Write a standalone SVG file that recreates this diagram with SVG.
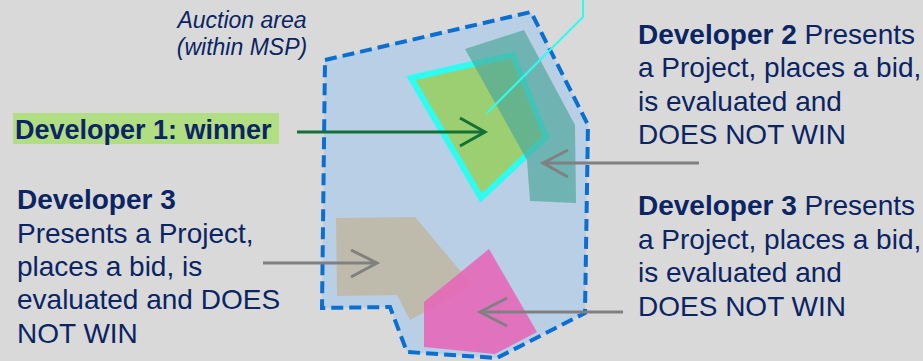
<svg xmlns="http://www.w3.org/2000/svg" width="923" height="361" viewBox="0 0 923 361">
<defs>
<style>
text{font-family:"Liberation Sans",Arial,sans-serif;fill:#0b2463;font-size:28px}
.b{font-weight:bold}
.conn{fill:none;stroke-width:3}
.gray{stroke:#808080}
.green{stroke:#137137}
</style>
</defs>
<rect width="923" height="361" fill="#d9d9d9"/>
<g id="auction-area">
<polygon points="325,60 531,12 588,125 585,313 497,358 407,352 390,307 322,308" fill="#b8cfe6" stroke="#0a6fd0" stroke-width="4" stroke-dasharray="12,6"/>
<text x="242" y="28" text-anchor="middle" font-style="italic" style="font-size:23px">Auction area</text>
<text x="242" y="55" text-anchor="middle" font-style="italic" style="font-size:23px">(within MSP)</text>
</g>
<g id="project-1">
<polygon points="411,78 513,55 546,137 481,198" fill="#9bcf72" stroke="#2ffcf0" stroke-width="6" stroke-linejoin="miter"/>
</g>
<g id="project-2">
<polygon points="465,49 524,30 575,125 576,203 530,201 527,160" fill="#4ca69b" fill-opacity="0.68"/>
</g>
<g id="project-3a">
<polygon points="336,218 415,217 473,286 410,320 397,295 337,296" fill="#bfbbac"/>
</g>
<g id="project-3b">
<polygon points="489,249 537,332 495,354 424,347 424,302" fill="#e665b8" fill-opacity="0.88"/>
</g>
<g id="dev1">
<rect x="13" y="113" width="266" height="31" fill="#b1dd83"/>
<text x="15" y="139" class="b" style="font-size:27px">Developer 1: winner</text>
</g>
<g id="dev2">
<text x="638" y="44"><tspan class="b">Developer 2</tspan> Presents</text>
<text x="638" y="77">a Project, places a bid,</text>
<text x="638" y="111">is evaluated and</text>
<text x="638" y="144">DOES NOT WIN</text>
</g>
<g id="dev3-right">
<text x="638" y="215"><tspan class="b">Developer 3</tspan> Presents</text>
<text x="638" y="249">a Project, places a bid,</text>
<text x="638" y="282">is evaluated and</text>
<text x="638" y="316">DOES NOT WIN</text>
</g>
<g id="dev3-left">
<text x="17" y="209" class="b">Developer 3</text>
<text x="17" y="243">Presents a Project,</text>
<text x="17" y="276">places a bid, is</text>
<text x="17" y="309">evaluated and DOES</text>
<text x="17" y="343">NOT WIN</text>
</g>
<g id="connectors">
<polyline points="583,0 583,17 487,113" fill="none" stroke="#2ffcf0" stroke-width="2"/>
<line class="conn green" x1="297" y1="132" x2="485" y2="132"/>
<polyline class="conn green" points="460,118 485,132 460,146"/>
<line class="conn gray" x1="699" y1="163" x2="543" y2="163"/>
<polyline class="conn gray" points="568,150 543,163 568,177"/>
<line class="conn gray" x1="263" y1="263" x2="377" y2="263"/>
<polyline class="conn gray" points="351,250 377,263 351,277"/>
<line class="conn gray" x1="623" y1="312" x2="480" y2="312"/>
<polyline class="conn gray" points="507,298 480,312 507,326"/>
</g>
</svg>
